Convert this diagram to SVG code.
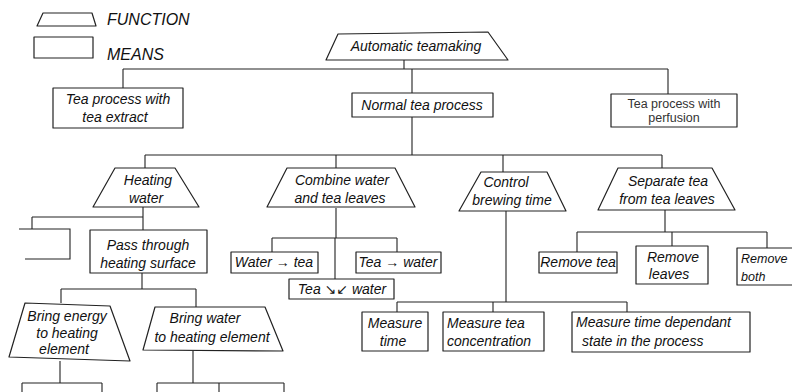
<svg xmlns="http://www.w3.org/2000/svg" width="792" height="392" viewBox="0 0 792 392">
<style>
.s{fill:#fff;stroke:#222;stroke-width:1.2;stroke-linejoin:round}
.c{fill:none;stroke:#222;stroke-width:1.1}
.t{font-family:"Liberation Sans","DejaVu Sans",sans-serif;font-style:italic;font-size:14px;fill:#111;text-anchor:middle}
.l{text-anchor:start}
.g{font-size:16px}
.p{font-size:12.5px;fill:#333;font-style:normal}
</style>
<rect width="792" height="392" fill="#fff"/>
<g id="legend">
<polygon class="s" points="43,13 92,13 96,26 37,26"/>
<text class="t l g" x="107" y="25">FUNCTION</text>
<rect class="s" x="34" y="37" width="59" height="21"/>
<text class="t l g" x="107" y="60">MEANS</text>
</g>
<g id="connectors">
<path class="c" d="M404,60 V69 M123,69 H668 M123,69 V88 M412,69 V93 M668,69 V94"/>
<path class="c" d="M412,117 V155 M145,155 H662 M145,155 V168 M336,155 V168 M503,155 V172 M662,155 V168"/>
<path class="c" d="M143,207 V217 M32,217 H143 M32,217 V229 M143,217 V230"/>
<path class="c" d="M142,273 V289 M61,289 H196 M61,289 V303 M196,289 V307"/>
<path class="c" d="M60,361 V383 M22,383 H102 M22,383 V392 M102,383 V392"/>
<path class="c" d="M193,351 V383 M157,383 H284 M157,383 V392 M219,383 V392 M284,383 V392"/>
<path class="c" d="M336,208 V238 M272,238 H397 M272,238 V252 M335,238 V279 M397,238 V252"/>
<path class="c" d="M506,211 V302 M397,302 H627 M397,302 V312 M493,302 V312 M627,302 V312"/>
<path class="c" d="M665,210 V232 M577,232 H767 M577,232 V252 M672,232 V246 M767,232 V248"/>
<path class="c" d="M19,229 H70 V259 H25"/>
</g>
<g id="root">
<polygon class="s" points="338,34 488,32 508,60 326,60"/>
<text class="t" x="416" y="51">Automatic teamaking</text>
</g>
<g id="extract">
<rect class="s" x="53" y="88" width="130" height="40"/>
<text class="t" x="118" y="104">Tea process with</text>
<text class="t" x="115" y="122">tea extract</text>
</g>
<g id="normal">
<rect class="s" x="352" y="93" width="141" height="24"/>
<text class="t" x="422" y="110">Normal tea process</text>
</g>
<g id="perfusion">
<rect class="s" x="611" y="94" width="126" height="33"/>
<text class="t p" x="674" y="108">Tea process with</text>
<text class="t p" x="674" y="122">perfusion</text>
</g>
<g id="heating">
<polygon class="s" points="115,168 175,168 199,207 93,207"/>
<text class="t" x="148" y="185">Heating</text>
<text class="t" x="146" y="203">water</text>
</g>
<g id="combine">
<polygon class="s" points="287,168 395,168 415,207 267,207"/>
<text class="t" x="342" y="185">Combine water</text>
<text class="t" x="340" y="203">and tea leaves</text>
</g>
<g id="control">
<polygon class="s" points="481,172 547,172 566,211 459,211"/>
<text class="t" x="506" y="187">Control</text>
<text class="t" x="512" y="205">brewing time</text>
</g>
<g id="separate">
<polygon class="s" points="618,168 712,168 735,210 598,210"/>
<text class="t" x="668" y="186">Separate tea</text>
<text class="t" x="667" y="204">from tea leaves</text>
</g>
<g id="pass">
<rect class="s" x="90" y="230" width="117" height="43"/>
<text class="t" x="148" y="250">Pass through</text>
<text class="t" x="148" y="268">heating surface</text>
</g>
<g id="energy">
<polygon class="s" points="25,303 110,306 130,361 9,357"/>
<text class="t" x="67" y="321">Bring energy</text>
<text class="t" x="67" y="338">to heating</text>
<text class="t" x="64" y="354">element</text>
</g>
<g id="bringwater">
<polygon class="s" points="155,307 265,307 283,351 143,350"/>
<text class="t" x="205" y="323">Bring water</text>
<text class="t" x="212" y="342">to heating element</text>
</g>
<g id="watertea">
<rect class="s" x="231" y="252" width="87" height="21"/>
<text class="t" x="274" y="267">Water → tea</text>
</g>
<g id="teawater">
<rect class="s" x="356" y="252" width="85" height="21"/>
<text class="t" x="398" y="267">Tea → water</text>
</g>
<g id="teawater2">
<rect class="s" x="289" y="279" width="105" height="20"/>
<text class="t" x="342" y="294">Tea ↘↙ water</text>
</g>
<g id="mtime">
<rect class="s" x="362" y="312" width="66" height="39"/>
<text class="t" x="395" y="328">Measure</text>
<text class="t" x="393" y="346">time</text>
</g>
<g id="mconc">
<rect class="s" x="443" y="312" width="101" height="39"/>
<text class="t l" x="447" y="328">Measure tea</text>
<text class="t l" x="447" y="346">concentration</text>
</g>
<g id="mstate">
<rect class="s" x="572" y="312" width="178" height="40"/>
<text class="t l" x="576" y="327">Measure time dependant</text>
<text class="t l" x="582" y="346">state in the process</text>
</g>
<g id="rtea">
<rect class="s" x="539" y="252" width="78" height="21"/>
<text class="t" x="578" y="267">Remove tea</text>
</g>
<g id="rleaves">
<rect class="s" x="636" y="246" width="72" height="38"/>
<text class="t" x="673" y="262">Remove</text>
<text class="t" x="669" y="279">leaves</text>
</g>
<g id="rboth">
<rect class="s" x="737" y="248" width="70" height="37"/>
<text class="t l" x="741" y="263" style="font-size:12.5px">Remove</text>
<text class="t l" x="741" y="281" style="font-size:12.5px">both</text>
</g>
</svg>
